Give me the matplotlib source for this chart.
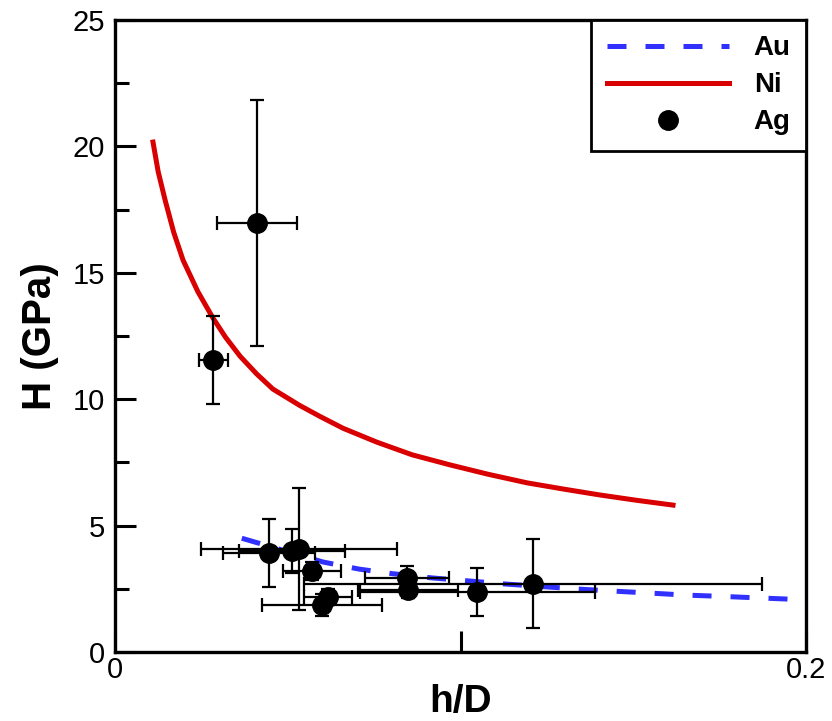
import numpy as np
import matplotlib
matplotlib.use('Agg')
import matplotlib.pyplot as plt
from matplotlib.ticker import FixedLocator, FixedFormatter

plt.rcParams['font.family'] = ['Liberation Sans', 'DejaVu Sans']

# Ni model curve
ni_x = [0.0110, 0.0125, 0.0145, 0.0170, 0.0197, 0.0240, 0.0284, 0.0320,
        0.0362, 0.0410, 0.0457, 0.0535, 0.0593, 0.0660, 0.0758, 0.0860,
        0.0970, 0.1080, 0.1193, 0.1300, 0.1404, 0.1510, 0.1615]
ni_y = [20.17, 19.00, 17.88, 16.60, 15.50, 14.25, 13.20, 12.45,
        11.70, 11.00, 10.40, 9.75, 9.32, 8.85, 8.30, 7.80,
        7.40, 7.03, 6.69, 6.44, 6.21, 6.00, 5.81]

# Au model curve
au_x = [0.0367, 0.0602, 0.0706, 0.0802, 0.0918, 0.1016, 0.1129, 0.1340,
        0.1441, 0.1549, 0.1653, 0.1757, 0.1861, 0.1990]
au_y = [4.50, 3.56, 3.28, 3.10, 2.93, 2.82, 2.69, 2.49,
        2.41, 2.33, 2.25, 2.20, 2.14, 2.07]

# Ag measurements
ag_x = [0.0284, 0.0411, 0.0446, 0.0512, 0.0533, 0.0570, 0.0616, 0.0599,
        0.0845, 0.0848, 0.1048, 0.1210]
ag_y = [11.55, 16.97, 3.92, 4.00, 4.07, 3.20, 2.18, 1.86,
        2.93, 2.45, 2.37, 2.69]
ag_xerr = [0.0042, 0.0115, 0.0133, 0.0153, 0.0284, 0.0083, 0.0069, 0.0174,
           0.0122, 0.0145, 0.0340, 0.0663]
ag_yerr = [1.75, 4.85, 1.33, 0.86, 2.42, 0.35, 0.30, 0.44,
           0.47, 0.30, 0.95, 1.76]

fig = plt.figure(figsize=(8.32, 7.21), dpi=100)
ax = fig.add_axes([0.1382, 0.0957, 0.8306, 0.8766])

au_line, = ax.plot(au_x, au_y, color='#3030ff', lw=3.6, dashes=(3.8, 3.8),
                   label='Au')
ni_line, = ax.plot(ni_x, ni_y, color='#d80000', lw=3.6, label='Ni')
ag = ax.errorbar(ag_x, ag_y, xerr=ag_xerr, yerr=ag_yerr, fmt='o', color='black',
                 ms=14, elinewidth=1.6, capsize=5, capthick=1.6, label='Ag',
                 zorder=3)

ax.set_xlim(0, 0.2)
ax.set_ylim(0, 25)

ax.xaxis.set_major_locator(FixedLocator([0, 0.1, 0.2]))
ax.xaxis.set_major_formatter(FixedFormatter(['0', '', '0.2']))
ax.yaxis.set_major_locator(FixedLocator([0, 5, 10, 15, 20, 25]))
ax.yaxis.set_major_formatter(FixedFormatter(['0', '5', '10', '15', '20', '25']))
ax.yaxis.set_minor_locator(FixedLocator([2.5, 7.5, 12.5, 17.5, 22.5]))

ax.tick_params(which='major', direction='in', length=15, width=2.2,
               labelsize=21, pad=7)
ax.tick_params(axis='x', which='major', pad=3)
ax.tick_params(which='minor', direction='in', length=10, width=2.2)
ax.tick_params(top=False, right=False)
for s in ax.spines.values():
    s.set_linewidth(2.4)

ax.set_xlabel('h/D', fontsize=28, fontweight='bold', labelpad=0)
ax.set_ylabel('H (GPa)', fontsize=29, fontweight='bold', labelpad=10)

# legend handle for Ag without error bars
ag_handle = plt.Line2D([], [], ls='none', marker='o', color='black', ms=14)
leg = ax.legend([au_line, ni_line, ag_handle], ['Au', 'Ni', 'Ag'],
                loc='upper right', borderaxespad=0, fancybox=False,
                edgecolor='black', framealpha=1, handlelength=4.4,
                handletextpad=0.9, labelspacing=0.4, borderpad=0.55,
                prop={'size': 20, 'weight': 'bold'})
leg.get_frame().set_linewidth(2.0)

fig.savefig('out.png', dpi=100)
